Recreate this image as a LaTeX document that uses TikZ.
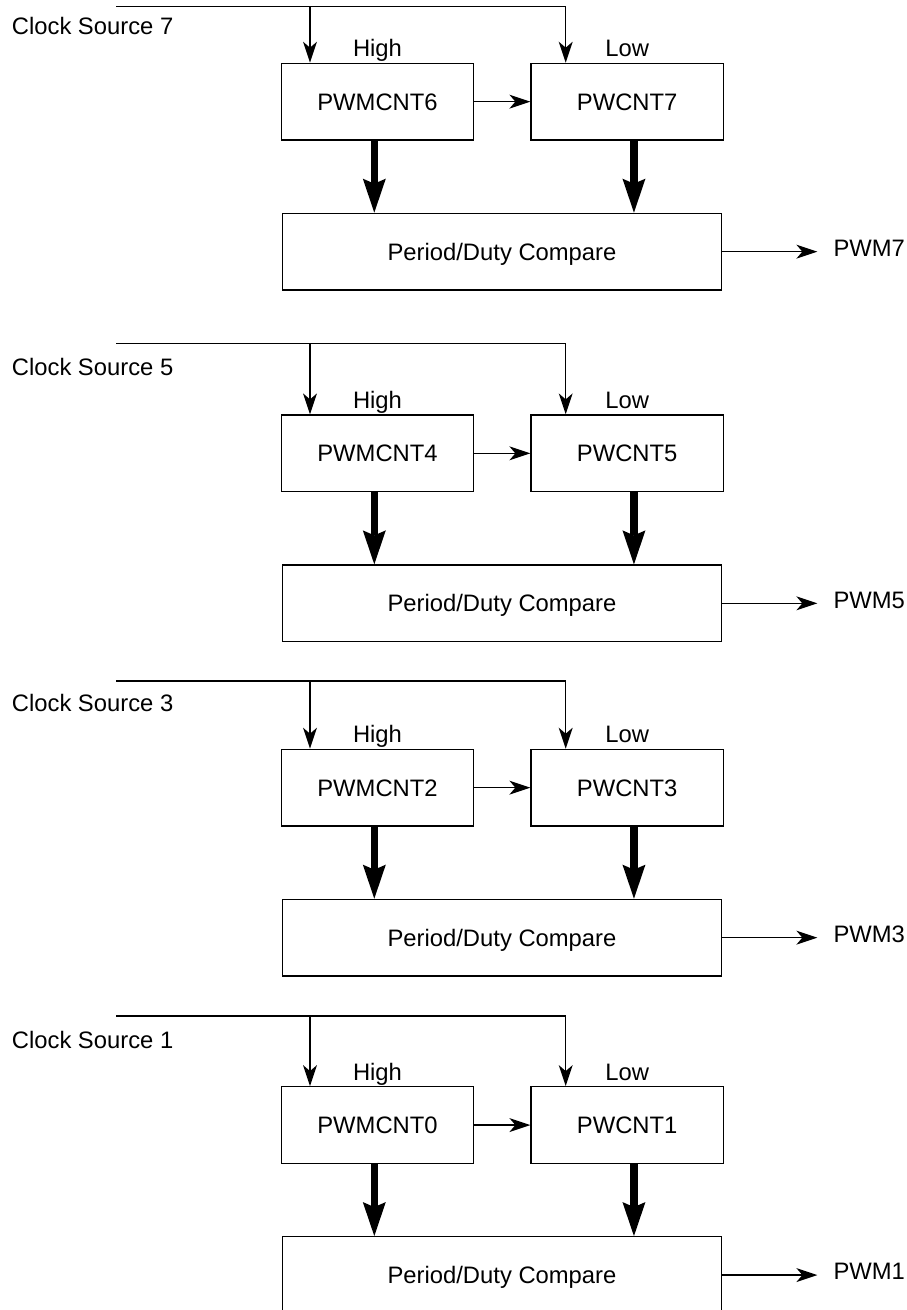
\documentclass[tikz,border=0pt]{standalone}
\usepackage{fontspec}
\setmainfont{Liberation Sans}
\usetikzlibrary{arrows.meta,calc}
\newcommand\diagfont{\fontsize{23.8}{28}\selectfont}
\begin{document}
\begin{tikzpicture}[x=1pt,y=-1pt,
  every node/.style={font=\diagfont},
  box/.style={draw, line width=1.3pt, inner sep=0pt, text height=17pt, text depth=0pt, minimum height=76.7pt},
  lbl/.style={inner sep=0pt},
  sig/.style={-{Stealth[length=21pt,width=14pt,inset=6pt,line width=0pt]}, line width=1.3pt},
  bus/.style={-{Stealth[length=34pt,width=23pt,inset=5pt,line width=0pt]}, line width=7.3pt}]
\useasboundingbox (0,0) rectangle (907,1310);
\clip (0,0) rectangle (907,1310);
\foreach \n/\k/\C/\T/\tc/\hiN/\loN/\pwm in {
  1/7/6.7/63.3/34.3/PWMCNT6/PWCNT7/PWM7,
  2/5/343.3/415/375.7/PWMCNT4/PWCNT5/PWM5,
  3/3/681/749.3/711.7/PWMCNT2/PWCNT3/PWM3,
  4/1/1016/1086.7/1048.3/PWMCNT0/PWCNT1/PWM1}{
  \coordinate (cs\n) at (116,\C);
  \coordinate (jL\n) at (310,\C);
  \coordinate (jR\n) at (565.7,\C);
  \node[box, minimum width=191.6pt] (hi\n) at (377.5,{\T+38.35}) {\hiN};
  \node[box, minimum width=192.3pt] (lo\n) at (627.15,{\T+38.35}) {\loN};
  \node[box, minimum width=439.4pt] (cmp\n) at (502,{\T+188.35}) {Period/Duty Compare};
  \node[lbl, anchor=base] (h\n) at ([yshift=6pt]hi\n.north) {High};
  \node[lbl, anchor=base] (l\n) at ([yshift=6pt]lo\n.north) {Low};
  \node[lbl, anchor=base west] (c\n) at (11.7,\tc) {Clock Source \k};
  \draw[sig] (cs\n) -- (jR\n) -- (jR\n |- lo\n.north);
  \draw[sig] (jL\n) -- (jL\n |- hi\n.north);
  \draw[sig] (hi\n.east) -- (lo\n.west);
  \draw[bus] ([xshift=-3.2pt]hi\n.south) -- ([xshift=-3.2pt]hi\n.south |- cmp\n.north);
  \draw[bus] ([xshift=6.8pt]lo\n.south) -- ([xshift=6.8pt]lo\n.south |- cmp\n.north);
  \coordinate (o\n) at ([xshift=95pt]cmp\n.east);
  \draw[sig] (cmp\n.east) -- (o\n);
  \node[lbl, anchor=base west] (p\n) at ([xshift=16pt,yshift=-4.7pt]o\n) {\pwm};
}
\end{tikzpicture}
\end{document}
